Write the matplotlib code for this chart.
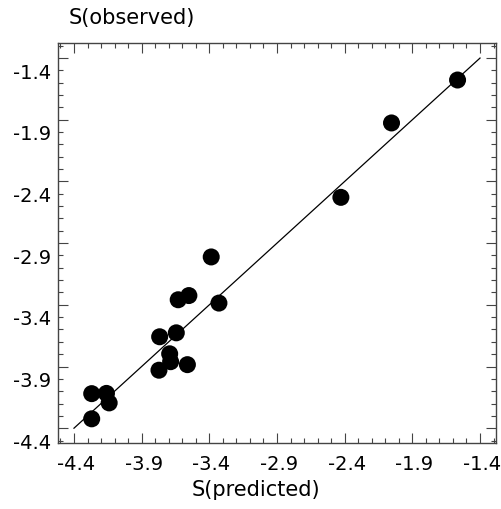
import matplotlib
matplotlib.use("Agg")
import matplotlib.pyplot as plt
from matplotlib.ticker import MultipleLocator, FixedLocator
import matplotlib.transforms as mtransforms

# data
s_predicted = [-1.566, -2.054, -2.428, -3.386, -3.329, -3.551, -3.630, -3.644,
               -3.767, -3.693, -3.686, -3.772, -3.562, -4.269, -4.160, -4.140, -4.269]
s_observed  = [-1.578, -1.926, -2.529, -3.012, -3.386, -3.325, -3.359, -3.627,
               -3.659, -3.797, -3.861, -3.930, -3.885, -4.120, -4.118, -4.195, -4.324]
line_x = [-4.4, -1.4]
line_y = [-4.4, -1.4]
tick_vals = [-4.4, -3.9, -3.4, -2.9, -2.4, -1.9, -1.4]
tick_labels = ["-4.4", "-3.9", "-3.4", "-2.9", "-2.4", "-1.9", "-1.4"]

plt.rcParams['font.family'] = ['DejaVu Sans']
fig = plt.figure(figsize=(5.02, 5.10), dpi=100)
ax = fig.add_axes([58/502, 1-444/510, (496-58)/502, (444-44)/510])

ax.plot(line_x, line_y, color='black', lw=0.9, zorder=2)
ax.scatter(s_predicted, s_observed, s=150, color='black', edgecolors='none', zorder=3)

ax.set_xlim(-4.518, -1.282)
ax.set_ylim(-4.52, -1.278)

ax.xaxis.set_major_locator(FixedLocator(tick_vals))
ax.yaxis.set_major_locator(FixedLocator(tick_vals))
ax.set_xticklabels(tick_labels)
ax.set_yticklabels(tick_labels)
ax.xaxis.set_minor_locator(MultipleLocator(0.1))
ax.yaxis.set_minor_locator(MultipleLocator(0.1))

ax.tick_params(which='both', direction='in', top=True, right=True,
               color='#444444', width=0.8, labelsize=14)
ax.tick_params(which='major', length=7)
ax.tick_params(which='minor', length=3.5)
ax.tick_params(axis='x', pad=8)
ax.tick_params(axis='y', pad=5)

for sp in ax.spines.values():
    sp.set_color('#444444')
    sp.set_linewidth(1.0)

# the original's y tick labels sit about one minor step below their ticks
off_y = mtransforms.ScaledTranslation(0, -12/100, fig.dpi_scale_trans)
for lab in ax.get_yticklabels():
    lab.set_transform(lab.get_transform() + off_y)
off_x = mtransforms.ScaledTranslation(2/100, 0, fig.dpi_scale_trans)
for lab in ax.get_xticklabels():
    lab.set_transform(lab.get_transform() + off_x)

fig.text(132/502, 1-18/510, "S(observed)", ha='center', va='center', fontsize=15)
fig.text(256/502, 1-490/510, "S(predicted)", ha='center', va='center', fontsize=15)

fig.savefig("out.png", dpi=100)
